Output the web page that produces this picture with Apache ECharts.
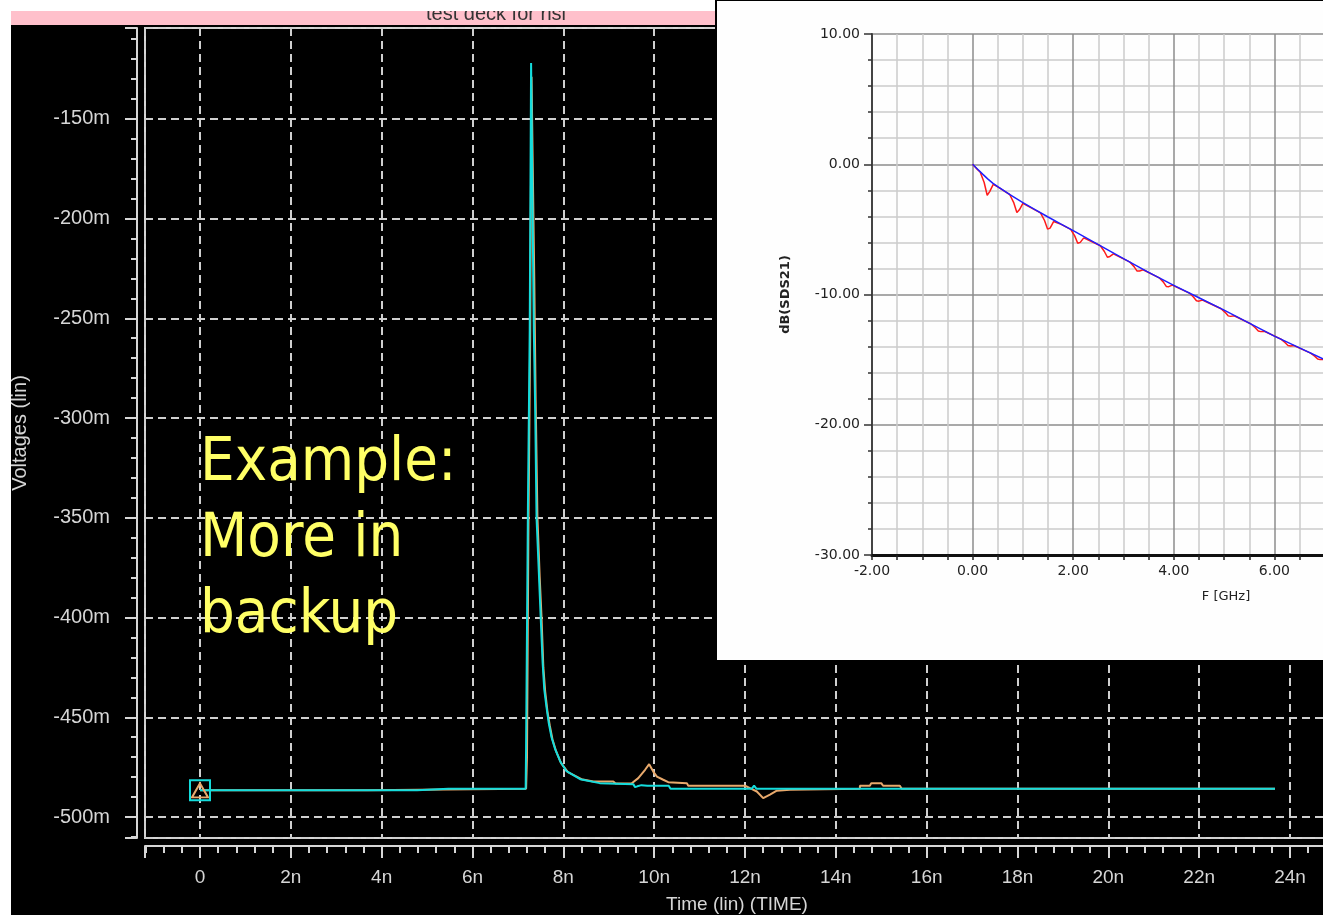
<!DOCTYPE html>
<html><head><meta charset="utf-8">
<script src="https://cdn.jsdelivr.net/npm/echarts@6/dist/echarts.min.js"></script>
<style>html,body{margin:0;padding:0;background:#fff;}#c{width:1323px;height:915px;}</style>
</head><body><div id="c"></div>
<script>
// ---- Main transient plot (time in ns, voltage in mV) ----
const cyanT = [0, 4.78, 4.78, 5.47, 5.5, 5.53, 7.17, 7.18, 7.22, 7.26, 7.29, 7.33, 7.35, 7.38, 7.41, 7.46, 7.50, 7.545, 7.58, 7.63, 7.68, 7.74, 7.82, 7.93, 8.07, 8.37, 8.8, 9.54, 9.58, 9.63, 9.72, 9.85, 10.32, 10.36, 12.15, 12.2, 12.25, 23.67];
const cyanV = [-486.6, -486.6, -485.8, -485.8, -484.8, -485.8, -485.8, -465, -346, -256, -122, -122, -256, -295, -350, -377, -399, -423, -436, -445, -453, -460, -466, -472, -477, -481, -483, -483.5, -485, -484.6, -484, -484.3, -484.3, -485.8, -485.8, -484.3, -485.8, -485.8];
const orangeT = [0, 3.68, 3.69, 7.18, 7.2, 7.23, 7.27, 7.3, 7.335, 7.36, 7.39, 7.43, 7.48, 7.52, 7.56, 7.6, 7.65, 7.7, 7.76, 7.84, 7.95, 8.1, 8.4, 8.66, 9.1, 9.15, 9.5, 9.54, 9.65, 9.8, 9.89, 9.98, 10.06, 10.2, 10.31, 10.72, 10.75, 12.0, 12.11, 12.26, 12.4, 12.55, 12.7, 12.99, 13.02, 14.53, 14.53, 14.75, 14.78, 15.0, 15.04, 15.41, 15.45, 23.67];
const orangeV = [-486.6, -486.6, -485.8, -485.8, -470, -360, -260, -129, -129, -230, -290, -350, -380, -400, -425, -437, -447, -454, -461, -467, -473, -477.5, -481, -482.2, -482.2, -483.2, -483.2, -482.2, -480.5, -476.3, -473.5, -477.2, -479.7, -481.3, -482.5, -483, -484.3, -484.3, -485.5, -487.2, -490.5, -488.8, -486.8, -486.3, -485.8, -485.8, -484.3, -484.3, -483, -483, -484.3, -484.3, -485.8, -485.8];

// ---- Inset S21 plot (F in GHz, dB) ----
const blueF = [0, 0.1, 0.2, 0.3, 0.4, 0.5, 0.75, 1.0, 1.25, 1.5, 1.75, 2.0, 2.5, 3.0, 3.5, 4.0, 4.5, 5.0, 5.5, 6.0, 6.5, 7.0, 7.5];
const blueDB = [0, -0.38, -0.76, -1.12, -1.45, -1.72, -2.35, -2.95, -3.5, -4.05, -4.58, -5.1, -6.17, -7.25, -8.3, -9.3, -10.25, -11.2, -12.2, -13.2, -14.1, -15.0, -15.9];
const redF = [0, 0.1, 0.15, 0.23, 0.29, 0.34, 0.41, 0.5, 0.74, 0.82, 0.88, 0.93, 1.0, 1.35, 1.43, 1.49, 1.54, 1.61, 1.75, 1.95, 2.03, 2.09, 2.14, 2.21, 2.54, 2.62, 2.68, 2.73, 2.8, 3.13, 3.21, 3.27, 3.32, 3.39, 3.71, 3.79, 3.85, 3.9, 3.97, 4.31, 4.39, 4.45, 4.5, 4.57, 4.94, 5.02, 5.08, 5.13, 5.2, 5.54, 5.62, 5.68, 5.73, 5.8, 6.13, 6.21, 6.27, 6.32, 6.39, 6.72, 6.8, 6.86, 6.91, 6.98, 7.2, 7.5];
const redDB = [0, -0.42, -0.6, -1.4, -2.38, -2.1, -1.55, -1.74, -2.34, -2.97, -3.71, -3.5, -3.0, -3.73, -4.32, -4.98, -4.9, -4.4, -4.6, -5.0, -5.5, -6.07, -6.0, -5.65, -6.26, -6.7, -7.14, -7.08, -6.88, -7.52, -7.86, -8.2, -8.2, -8.1, -8.72, -9.03, -9.38, -9.4, -9.28, -9.89, -10.19, -10.48, -10.51, -10.42, -11.09, -11.37, -11.64, -11.68, -11.63, -12.28, -12.55, -12.8, -12.85, -12.82, -13.43, -13.68, -13.91, -13.96, -13.92, -14.5, -14.73, -14.95, -15.0, -14.98, -15.36, -15.9];

// ---- Texts ----
const titleText = 'test deck for rlsi';
const noteText = 'Example:\nMore in\nbackup';
const mainXName = 'Time (lin) (TIME)';
const mainYName = 'Voltages (lin)';
const insetXName = 'F [GHz]';
const insetYName = 'dB(SDS21)';

const CYAN = '#14dcdc', ORANGE = '#e8a96c';
const zip = (a, b) => a.map((v, i) => [v, b[i]]);
const cyanData = zip(cyanT, cyanV);
cyanData[0] = {value: cyanData[0], symbol: 'rect', symbolSize: [20, 20],
  itemStyle: {color: 'rgba(0,0,0,0)', borderColor: CYAN, borderWidth: 2}};
const orangeData = zip(orangeT, orangeV);
orangeData[0] = {value: orangeData[0], symbol: 'triangle', symbolSize: [16, 14],
  itemStyle: {color: 'rgba(0,0,0,0)', borderColor: ORANGE, borderWidth: 2}};

const mainFont = '"Liberation Sans", Arial, sans-serif';
const grey = '#d6d6d6';
const insetFont = '"DejaVu Sans", Verdana, sans-serif';

const chart = echarts.init(document.getElementById('c'), null, {width: 1323, height: 915});
chart.setOption({
  animation: false,
  backgroundColor: '#000',
  grid: [
    {left: 145, top: 28, width: 1198, bottom: 77, show: true, borderColor: grey, borderWidth: 2,
     backgroundColor: 'transparent', containLabel: false, outerBoundsMode: 'none'},
    {left: 872, top: 34, width: 503, bottom: 360, show: false, z: 10, containLabel: false, outerBoundsMode: 'none'}
  ],
  xAxis: [
    {type: 'value', gridIndex: 0, min: -1.211, max: 25.167, splitNumber: 13, offset: 8,
     axisLine: {show: true, onZero: false, lineStyle: {color: grey, width: 2}},
     axisTick: {show: true, length: 12, lineStyle: {color: grey, width: 2}},
     minorTick: {show: true, splitNumber: 5, length: 7, lineStyle: {color: grey, width: 2}},
     splitLine: {show: true, lineStyle: {color: '#cfcfcf', width: 2, type: [8, 5]}},
     axisLabel: {color: grey, fontFamily: mainFont, fontSize: 19, margin: 22,
       formatter: v => { const r = Math.round(v); if (Math.abs(v - r) > 1e-6 || r % 2) return ''; return r === 0 ? '0' : r + 'n'; }},
     name: mainXName, nameLocation: 'middle', nameGap: 49,
     nameTextStyle: {color: grey, fontFamily: mainFont, fontSize: 19, padding: [0, 14, 0, 0]}},
    {type: 'value', gridIndex: 1, min: -2, max: 8, interval: 2, z: 10,
     axisLine: {show: true, onZero: false, lineStyle: {color: '#111', width: 3}},
     axisTick: {show: true, length: 5, lineStyle: {color: '#222', width: 1.5}},
     minorTick: {show: true, splitNumber: 4, length: 5, lineStyle: {color: '#222', width: 1.5}},
     splitLine: {show: true, lineStyle: {color: '#8c8c8c', width: 1.5}},
     minorSplitLine: {show: true, lineStyle: {color: '#cbcbcb', width: 1.5}},
     axisLabel: {color: '#222', fontFamily: insetFont, fontSize: 14, margin: 9, formatter: v => v.toFixed(2)},
     name: insetXName, nameLocation: 'middle', nameGap: 35,
     nameTextStyle: {color: '#222', fontFamily: insetFont, fontSize: 13, padding: [0, 0, 0, 205]}}
  ],
  yAxis: [
    {type: 'value', gridIndex: 0, min: -510.5, max: -104.5, splitNumber: 8, offset: 8,
     axisLine: {show: true, onZero: false, lineStyle: {color: grey, width: 2}},
     axisTick: {show: true, length: 12, lineStyle: {color: grey, width: 2}},
     minorTick: {show: true, splitNumber: 5, length: 6, lineStyle: {color: grey, width: 2}},
     splitLine: {show: true, lineStyle: {color: '#cfcfcf', width: 2, type: [8, 5]}},
     axisLabel: {color: grey, fontFamily: mainFont, fontSize: 20, margin: 27,
       formatter: v => { const r = Math.round(v); if (Math.abs(v - r) > 1e-6 || r % 50) return ''; return r + 'm'; }},
     name: mainYName, nameLocation: 'middle', nameGap: 107,
     nameTextStyle: {color: grey, fontFamily: mainFont, fontSize: 20}},
    {type: 'value', gridIndex: 1, min: -30, max: 10, interval: 10, z: 10,
     axisLine: {show: true, onZero: false, lineStyle: {color: '#444', width: 2}},
     axisTick: {show: true, length: 8, lineStyle: {color: '#333', width: 1.5}},
     minorTick: {show: true, splitNumber: 5, length: 4, lineStyle: {color: '#333', width: 1.5}},
     splitLine: {show: true, lineStyle: {color: '#8c8c8c', width: 1.5}},
     minorSplitLine: {show: true, lineStyle: {color: '#cbcbcb', width: 1.5}},
     axisLabel: {color: '#222', fontFamily: insetFont, fontSize: 14, margin: 12, formatter: v => v.toFixed(2)},
     name: insetYName, nameLocation: 'middle', nameGap: 80,
     nameTextStyle: {color: '#222', fontFamily: insetFont, fontSize: 13, fontWeight: 'bold'}}
  ],
  series: [
    {type: 'line', xAxisIndex: 0, yAxisIndex: 0, data: orangeData, symbol: 'none', showSymbol: true,
     lineStyle: {color: ORANGE, width: 2}, itemStyle: {color: ORANGE}, z: 2, silent: true},
    {type: 'line', xAxisIndex: 0, yAxisIndex: 0, data: cyanData, symbol: 'none', showSymbol: true,
     lineStyle: {color: CYAN, width: 2}, itemStyle: {color: CYAN}, z: 2, silent: true},
    {type: 'line', xAxisIndex: 1, yAxisIndex: 1, data: zip(redF, redDB), symbol: 'none',
     lineStyle: {color: '#ff1a1a', width: 1.5}, z: 12, silent: true},
    {type: 'line', xAxisIndex: 1, yAxisIndex: 1, data: zip(blueF, blueDB), symbol: 'none',
     lineStyle: {color: '#1f1fff', width: 1.5}, z: 13, silent: true}
  ],
  graphic: [
    {type: 'text', z: 3, left: 200, top: 426,
     style: {text: noteText, font: '61px "DejaVu Sans Condensed", "Noto Sans", sans-serif', fill: '#ffff66', lineHeight: 76}},
    {type: 'rect', z: 5, shape: {x: 716, y: 0, width: 620, height: 661},
     style: {fill: '#fefefe', stroke: '#000', lineWidth: 2}},
    {type: 'rect', z: 20, shape: {x: 0, y: 0, width: 11, height: 915}, style: {fill: '#fff'}},
    {type: 'rect', z: 20, shape: {x: 11, y: 0, width: 704, height: 25}, style: {fill: '#ffc0cb'}},
    {type: 'text', z: 21, style: {text: titleText, x: 496, y: 24, align: 'center', verticalAlign: 'bottom',
      font: '20px "Liberation Sans Narrow", "Liberation Sans", sans-serif', fill: '#333'}},
    {type: 'rect', z: 22, shape: {x: 0, y: 0, width: 715, height: 11}, style: {fill: '#fff'}}
  ]
});
</script></body></html>
